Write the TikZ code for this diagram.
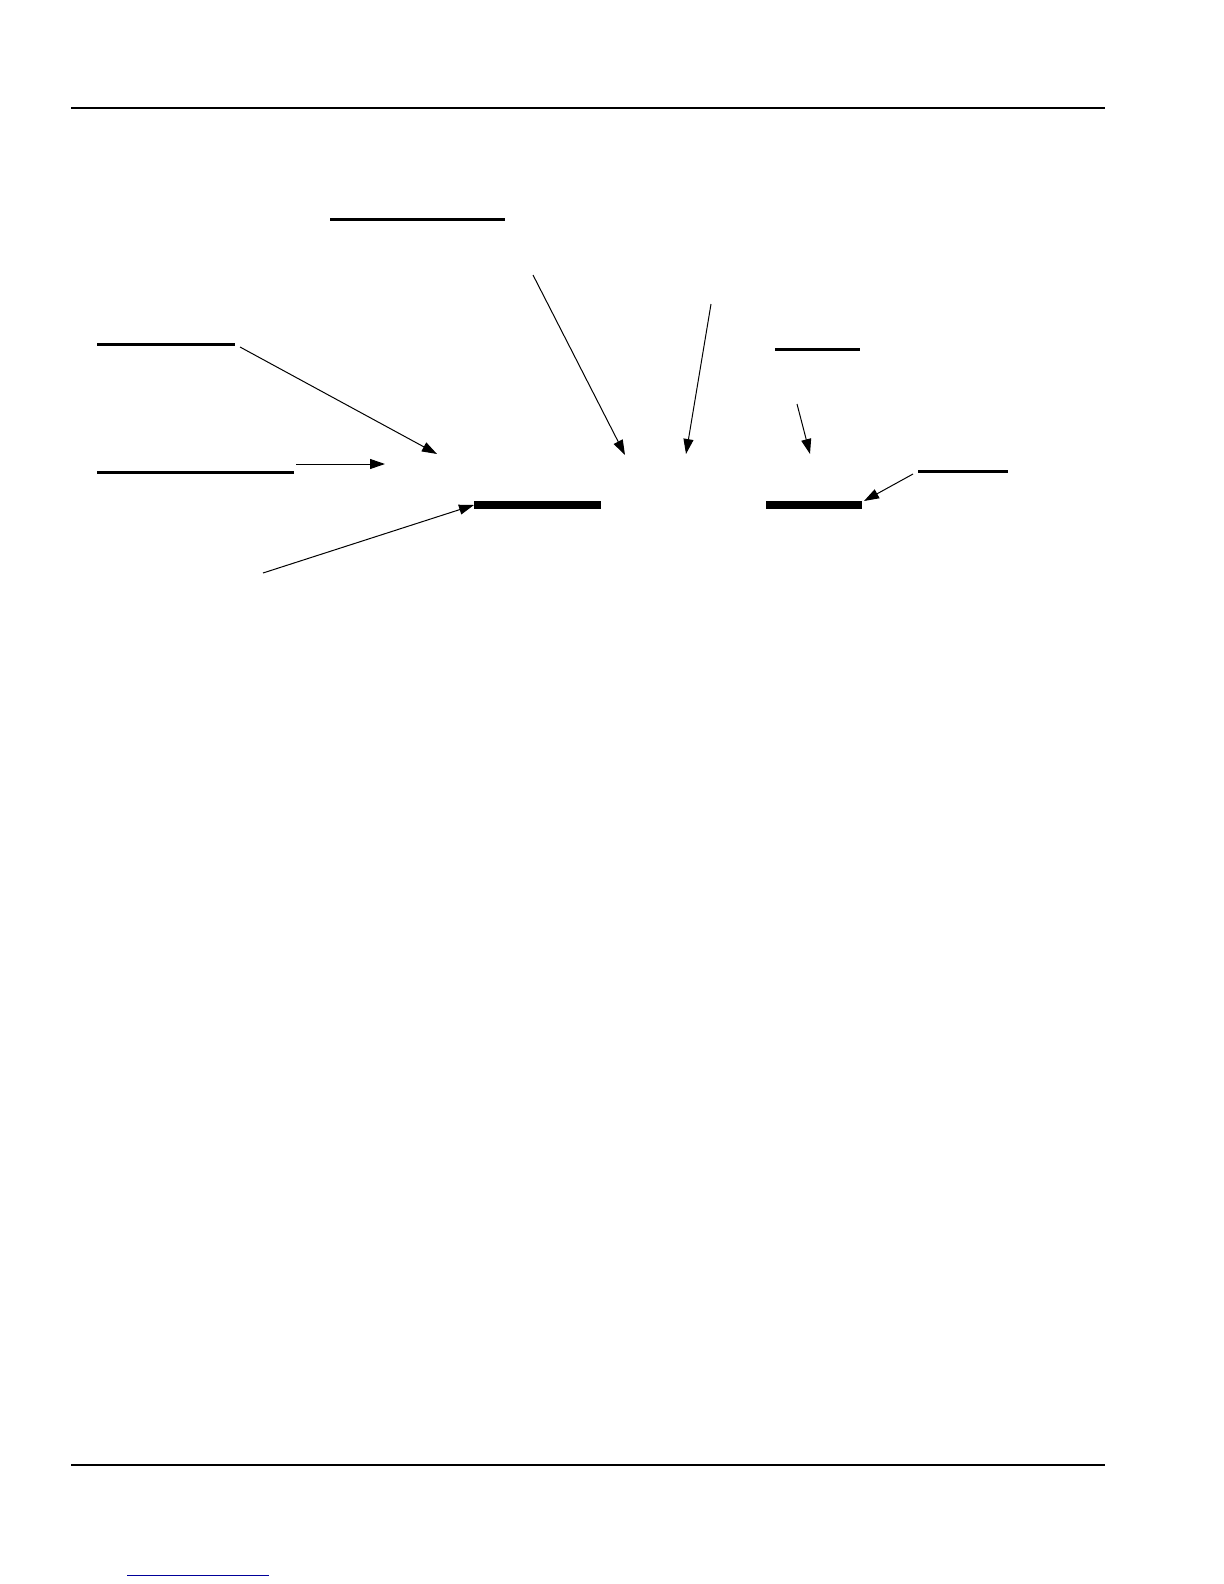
\documentclass[tikz,border=0pt]{standalone}
\usepackage{xcolor}
\usepackage{tikz}
\usetikzlibrary{arrows.meta}

\begin{document}
\begin{tikzpicture}[y=-0.5pt,x=0.5pt,
	rule/.style={line width=1pt},
	uline/.style={line width=1.5pt},
	bar/.style={line width=4pt},
	pointer/.style={line width=0.5pt,-{Triangle[length=7.5pt,width=5pt]}}]
	\useasboundingbox (0,0) rectangle (1224,1584);

	% page rules
	\draw [rule] (71,108) -- (1105,108);
	\draw [rule] (71,1465) -- (1105,1465);
	\draw [line width=0.5pt, blue!60!black] (127,1575) -- (269,1575);

	% label lines
	\draw [uline] (330,219) -- (505,219);
	\draw [uline] (97,344) -- (235,344);
	\draw [uline] (97,472) -- (294,472);
	\draw [uline] (775,349) -- (860,349);
	\draw [uline] (918,471) -- (1008,471);

	% bars
	\draw [bar] (474,505) coordinate (barFl) -- (601,505);
	\draw [bar] (766,505) -- (862,505) coordinate (barGr);

	% pointers
	\coordinate (pA) at (240,347);
	\coordinate (pB) at (296,464);
	\coordinate (pC) at (263,573);
	\coordinate (pD) at (533,275);
	\coordinate (pE) at (711,304);
	\coordinate (pF) at (797,404);
	\coordinate (pG) at (913,474);
	\coordinate (tA) at (437,454);
	\coordinate (tB) at (385,464);
	\coordinate (tD) at (625,455);
	\coordinate (tE) at (686,454);
	\coordinate (tF) at (810,454);

	\draw [pointer] (pA) -- (tA);
	\draw [pointer] (pB) -- (tB);
	\draw [pointer] (pC) -- (barFl);
	\draw [pointer] (pD) -- (tD);
	\draw [pointer] (pE) -- (tE);
	\draw [pointer] (pF) -- (tF);
	\draw [pointer] (pG) -- ([xshift=1pt,yshift=2pt]barGr);

\end{tikzpicture}
\end{document}
